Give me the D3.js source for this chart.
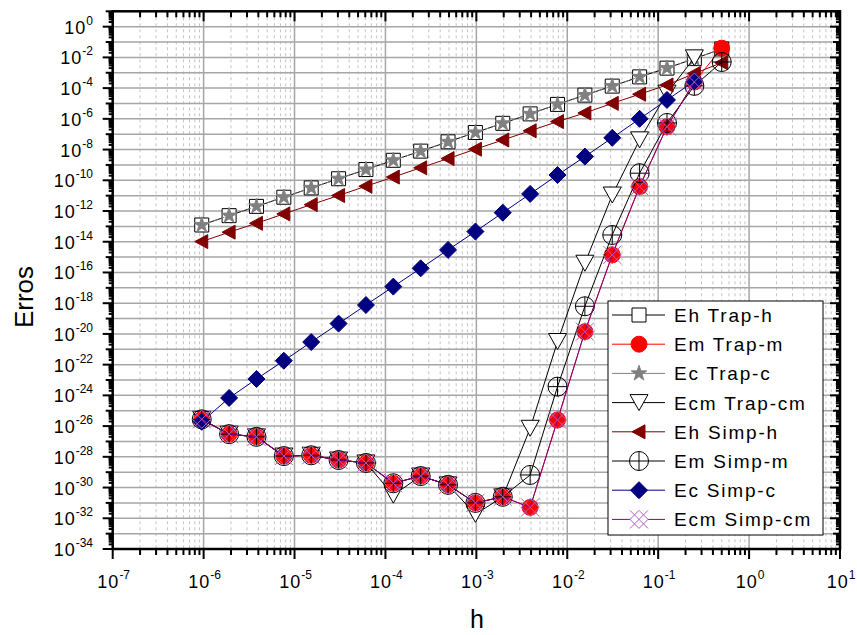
<!DOCTYPE html>
<html>
<head>
<meta charset="utf-8">
<script src="https://cdn.jsdelivr.net/npm/d3@7"></script>
<style>
  body { margin: 0; background: #fff; }
  svg { display: block; font-family: "Liberation Sans", Arial, sans-serif; }
</style>
</head>
<body>
<div id="chart"></div>
<script>
// step sizes h (x) and the error of each method (y)
const hValues = [0.5, 0.25, 0.125, 0.0625, 0.03125, 0.015625, 0.0078125, 0.00390625,
  0.001953125, 9.765625e-4, 4.8828125e-4, 2.44140625e-4, 1.220703125e-4, 6.103515625e-5,
  3.0517578125e-5, 1.52587890625e-5, 7.62939453125e-6, 3.814697265625e-6,
  1.9073486328125e-6, 9.5367431640625e-7];

const ehTrap = [3.55e-2, 8.3e-3, 2.0e-3, 5.4e-4, 1.35e-4, 3.5e-5, 8.7e-6, 2.1e-6, 5.1e-7, 1.29e-7,
  3.2e-8, 7.9e-9, 2.0e-9, 5.0e-10, 1.26e-10, 3.2e-11, 7.9e-12, 2.0e-12, 5.0e-13, 1.23e-13];
const emTrap = [4.0e-2, 2.5e-4, 3.1e-7, 3.9e-11, 1.4e-15, 1.4e-20, 2.5e-26, 5.1e-32, 2.5e-31, 1.0e-31,
  1.5e-30, 5.6e-30, 1.9e-30, 4.0e-29, 6.2e-29, 1.26e-28, 1.12e-28, 2.0e-27, 3.0e-27, 2.75e-26];
const ecTrap = [3.55e-2, 8.3e-3, 2.0e-3, 5.4e-4, 1.35e-4, 3.5e-5, 8.7e-6, 2.1e-6, 5.1e-7, 1.29e-7,
  3.2e-8, 7.9e-9, 2.0e-9, 5.0e-10, 1.26e-10, 3.2e-11, 7.9e-12, 2.0e-12, 5.0e-13, 1.23e-13];
const ecmTrap = [null, 9.3e-3, 4.7e-5, 4.3e-8, 1.1e-11, 4.0e-16, 3.2e-21, 7.2e-27, 2.5e-31, 1.8e-32,
  1.5e-30, 5.6e-30, 3.2e-31, 4.0e-29, 6.2e-29, 1.26e-28, 1.12e-28, 2.0e-27, 3.0e-27, 2.75e-26];
const ehSimp = [4.5e-3, 8.9e-4, 1.6e-4, 4.0e-5, 1.02e-5, 2.4e-6, 6.6e-7, 1.66e-7, 4.2e-8, 1.05e-8,
  2.6e-9, 6.5e-10, 1.62e-10, 4.1e-11, 1.02e-11, 2.6e-12, 6.5e-13, 1.58e-13, 4.2e-14, 1.02e-14];
const emSimp = [5.0e-3, 1.4e-4, 5.4e-7, 2.9e-10, 2.75e-14, 6.3e-19, 3.7e-24, 6.6e-30, 2.5e-31, 1.0e-31,
  1.5e-30, 5.6e-30, 1.9e-30, 4.0e-29, 6.2e-29, 1.26e-28, 1.12e-28, 2.0e-27, 3.0e-27, 2.75e-26];
const ecSimp = [null, 2.8e-4, 1.7e-5, 1.0e-6, 5.8e-8, 3.5e-9, 2.2e-10, 1.3e-11, 7.8e-13, 4.6e-14,
  2.95e-15, 1.86e-16, 1.2e-17, 7.6e-19, 4.7e-20, 2.95e-21, 1.8e-22, 1.17e-23, 6.8e-25, 1.9e-26];
const ecmSimp = [null, 2.5e-4, 3.1e-7, 3.9e-11, 1.4e-15, 1.4e-20, 2.5e-26, 5.1e-32, 2.5e-31, 1.0e-31,
  1.5e-30, 5.6e-30, 1.9e-30, 4.0e-29, 6.2e-29, 1.26e-28, 1.12e-28, 2.0e-27, 3.0e-27, 2.75e-26];

const seriesNames = ["Eh Trap-h", "Em Trap-m", "Ec Trap-c", "Ecm Trap-cm",
  "Eh Simp-h", "Em Simp-m", "Ec Simp-c", "Ecm Simp-cm"];
const seriesValues = [ehTrap, emTrap, ecTrap, ecmTrap, ehSimp, emSimp, ecSimp, ecmSimp];
const drawOrder = [0, 2, 3, 1, 4, 5, 6, 7];

const xTickExps = [-7, -6, -5, -4, -3, -2, -1, 0, 1];
const yTickExps = [-34, -32, -30, -28, -26, -24, -22, -20, -18, -16, -14, -12, -10, -8, -6, -4, -2, 0];

const width = 857, height = 635;
const pLeft = 112.7, pRight = 840, pTop = 11.3, pBottom = 549;

const x = d3.scaleLog().domain([1e-7, 1e1]).range([pLeft, pRight]);
const y = d3.scaleLog().domain([1e-34, 1e1]).range([pBottom, pTop]);

const svg = d3.select("#chart").append("svg")
  .attr("width", width).attr("height", height);

// grid
const grid = svg.append("g");
for (let e = -7; e < 1; e++) {
  for (let m = 2; m <= 9; m++) {
    grid.append("line")
      .attr("x1", x(m * Math.pow(10, e))).attr("x2", x(m * Math.pow(10, e)))
      .attr("y1", pTop).attr("y2", pBottom)
      .attr("stroke", "#c4c4c4").attr("stroke-width", 1).attr("stroke-dasharray", "3,3");
  }
}
for (let e = -6; e <= 0; e++) {
  grid.append("line")
    .attr("x1", x(Math.pow(10, e))).attr("x2", x(Math.pow(10, e)))
    .attr("y1", pTop).attr("y2", pBottom)
    .attr("stroke", "#a6a6a6").attr("stroke-width", 1.5);
}
for (let e = -33; e <= 0; e++) {
  grid.append("line")
    .attr("x1", pLeft).attr("x2", pRight)
    .attr("y1", y(Math.pow(10, e))).attr("y2", y(Math.pow(10, e)))
    .attr("stroke", "#a6a6a6").attr("stroke-width", 1.5);
}

// markers
function markerPath(i) {
  switch (i) {
    case 0: return "M-7,-7H7V7H-7Z";
    case 1: return d3.symbol(d3.symbolCircle, 200)();
    case 2: return d3.symbol(d3.symbolStar, 75)();
    case 3: return "M-9,-8L9,-8L0,8Z";
    case 4: return "M-7,0L6,-7L6,7Z";
    case 5: return "M-9.5,0A9.5,9.5 0 1,0 9.5,0A9.5,9.5 0 1,0 -9.5,0M-9.5,0H9.5M0,-9.5V9.5";
    case 6: return "M0,-8.5L8.5,0L0,8.5L-8.5,0Z";
    case 7: return "M-9,-9L9,9M-9,9L9,-9M0,-9L9,0L0,9L-9,0Z";
  }
}
const lineColors = ["#000", "#ff0000", "#808080", "#000", "#800000", "#000", "#000080", "#800080"];
const lineDash = [null, null, "4,3", null, null, null, null, null];
const markFill = ["#fff", "#ff0000", "#808080", "#fff", "#800000", "none", "#000080", "none"];
const markStroke = ["#000", "#ff0000", "#808080", "#000", "#800000", "#000", "#000080", "#b060c0"];

const line = d3.line()
  .defined(d => d[1] != null)
  .x(d => x(d[0])).y(d => y(d[1]));

drawOrder.forEach(function (i) {
  const vals = seriesValues[i];
  const pts = hValues.map((h, j) => [h, vals[j]]);
  const g = svg.append("g");
  g.append("path").attr("d", line(pts))
    .attr("fill", "none").attr("stroke", lineColors[i]).attr("stroke-width", 1)
    .attr("stroke-dasharray", lineDash[i]);
  g.selectAll("path.m").data(pts.filter(d => d[1] != null)).enter().append("path")
    .attr("class", "m")
    .attr("d", markerPath(i))
    .attr("transform", d => "translate(" + x(d[0]) + "," + y(d[1]) + ")")
    .attr("fill", markFill[i]).attr("stroke", markStroke[i]).attr("stroke-width", 1);
});

// frame and ticks
const frame = svg.append("g").attr("stroke", "#000");
frame.append("rect").attr("x", pLeft).attr("y", pTop)
  .attr("width", pRight - pLeft).attr("height", pBottom - pTop)
  .attr("fill", "none").attr("stroke-width", 2.5);

function tick(x1, y1, x2, y2) {
  frame.append("line").attr("x1", x1).attr("y1", y1).attr("x2", x2).attr("y2", y2)
    .attr("stroke-width", 2);
}
for (let e = -7; e <= 1; e++) {
  const px = x(Math.pow(10, e));
  tick(px, pBottom, px, pBottom + 10);
  tick(px, pTop, px, pTop + 10);
  if (e < 1) {
    for (let m = 2; m <= 9; m++) {
      const mx = x(m * Math.pow(10, e));
      tick(mx, pBottom, mx, pBottom + 6);
      tick(mx, pTop, mx, pTop + 6);
    }
  }
}
for (let e = -34; e <= 1; e++) {
  const py = y(Math.pow(10, e));
  const len = e % 2 === 0 ? 10 : 7;
  tick(pLeft, py, pLeft - len, py);
  tick(pRight, py, pRight - len, py);
  if (e < 1) {
    for (let m = 2; m <= 9; m++) {
      const my = y(m * Math.pow(10, e));
      tick(pLeft, my, pLeft - 4, my);
      tick(pRight, my, pRight - 4, my);
    }
  }
}

// tick labels
const yLab = svg.append("g").attr("font-size", 18).attr("text-anchor", "end").attr("fill", "#000");
yTickExps.forEach(function (e) {
  const t = yLab.append("text").attr("x", 93).attr("y", y(Math.pow(10, e)) + 7);
  t.append("tspan").text("10").attr("letter-spacing", 1);
  t.append("tspan").text(e).attr("font-size", 12).attr("dy", -9);
});
const xLab = svg.append("g").attr("font-size", 18).attr("text-anchor", "middle").attr("fill", "#000");
xTickExps.forEach(function (e) {
  const t = xLab.append("text").attr("x", x(Math.pow(10, e)) + 1).attr("y", 588);
  t.append("tspan").text("10").attr("letter-spacing", 1);
  t.append("tspan").text(e).attr("font-size", 12).attr("dy", -9);
});

// axis titles
svg.append("text").attr("x", 477).attr("y", 628).attr("text-anchor", "middle")
  .attr("font-size", 25).text("h");
svg.append("text").attr("transform", "translate(33,297) rotate(-90)")
  .attr("text-anchor", "middle").attr("font-size", 26).text("Erros");

// legend
const legend = svg.append("g");
legend.append("rect").attr("x", 608).attr("y", 301).attr("width", 215).attr("height", 234)
  .attr("fill", "#fff").attr("stroke", "#000").attr("stroke-width", 1);
seriesNames.forEach(function (name, i) {
  const cy = 315 + i * 29.2;
  legend.append("line").attr("x1", 612).attr("x2", 665).attr("y1", cy).attr("y2", cy)
    .attr("stroke", lineColors[i]).attr("stroke-width", 1);
  legend.append("path").attr("d", markerPath(i))
    .attr("transform", "translate(639," + cy + ")")
    .attr("fill", markFill[i] === "none" ? "#fff" : markFill[i])
    .attr("stroke", markStroke[i]).attr("stroke-width", 1);
  legend.append("text").attr("x", 674).attr("y", cy + 7)
    .attr("font-size", 19).attr("letter-spacing", 1.8).text(name);
});
</script>
</body>
</html>
